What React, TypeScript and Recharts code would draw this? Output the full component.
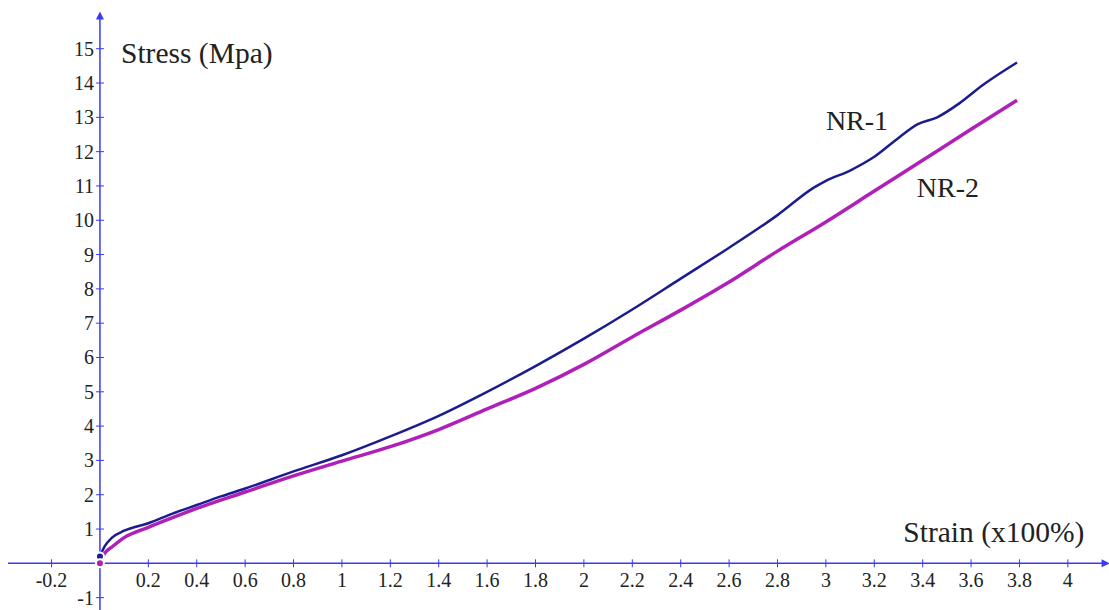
import { LineChart, Line, XAxis, YAxis, ReferenceLine, ReferenceDot } from "recharts";

// NR-1 (dark blue) strain / stress readings
const nr1Strain = [0, 0.02, 0.05, 0.1, 0.2, 0.3, 0.4, 0.5, 0.6, 0.8, 1.0, 1.2, 1.4, 1.6, 1.8, 2.0, 2.2, 2.4, 2.6, 2.8, 2.95, 3.0, 3.1, 3.2, 3.3, 3.38, 3.46, 3.55, 3.65, 3.79];
const nr1Stress = [0.2, 0.5, 0.75, 0.95, 1.17, 1.45, 1.7, 1.95, 2.18, 2.68, 3.15, 3.7, 4.3, 5.0, 5.75, 6.55, 7.4, 8.3, 9.2, 10.15, 10.95, 11.15, 11.45, 11.85, 12.4, 12.8, 13.0, 13.4, 13.95, 14.6];

// NR-2 (magenta)
const nr2Strain = [0, 0.02, 0.05, 0.1, 0.2, 0.3, 0.4, 0.6, 0.8, 1.0, 1.2, 1.4, 1.6, 1.8, 2.0, 2.2, 2.4, 2.6, 2.8, 3.0, 3.2, 3.4, 3.6, 3.79];
const nr2Stress = [0, 0.3, 0.48, 0.75, 1.05, 1.33, 1.6, 2.08, 2.55, 2.98, 3.4, 3.9, 4.5, 5.1, 5.8, 6.6, 7.38, 8.2, 9.1, 9.95, 10.85, 11.75, 12.65, 13.5];

const xTicks = [-0.2, 0.2, 0.4, 0.6, 0.8, 1, 1.2, 1.4, 1.6, 1.8, 2, 2.2, 2.4, 2.6, 2.8, 3, 3.2, 3.4, 3.6, 3.8, 4];
const yTicks = [-1, 1, 2, 3, 4, 5, 6, 7, 8, 9, 10, 11, 12, 13, 14, 15];

const nr1 = nr1Strain.map((x, i) => ({ x, y: nr1Stress[i] }));
const nr2 = nr2Strain.map((x, i) => ({ x, y: nr2Stress[i] }));

const AXIS = "#3a3af0";
const FONT = "'Liberation Serif', 'Times New Roman', serif";

const xTick = (label: string) => (p: any) => (
  <g>
    <line x1={p.cx} x2={p.cx} y1={p.cy - 4} y2={p.cy + 4} stroke={AXIS} strokeWidth={1} />
    <text x={p.cx} y={p.cy + 24} textAnchor="middle" fontFamily={FONT} fontSize={20} fill="#222">
      {label}
    </text>
  </g>
);

const yTick = (label: string) => (p: any) => (
  <g>
    <line x1={p.cx - 4} x2={p.cx + 4} y1={p.cy} y2={p.cy} stroke={AXIS} strokeWidth={1} />
    <text x={p.cx - 6} y={p.cy + 7} textAnchor="end" fontFamily={FONT} fontSize={20} fill="#222">
      {label}
    </text>
  </g>
);

const textAt = (label: string, size: number) => (p: any) => (
  <text x={p.cx} y={p.cy} fontFamily={FONT} fontSize={size} fill="#222">
    {label}
  </text>
);

export default function App() {
  return (
    <div style={{ position: "absolute", left: 0, top: 0, background: "#fff" }}>
      <LineChart width={1109} height={610} margin={{ top: 0, right: 0, bottom: 0, left: 0 }}>
        <XAxis dataKey="x" type="number" domain={[-0.413, 4.17]} allowDataOverflow hide />
        <YAxis type="number" domain={[-1.36, 16.42]} allowDataOverflow hide />

        <ReferenceLine segment={[{ x: -0.38, y: 0 }, { x: 4.16, y: 0 }]} stroke={AXIS} strokeWidth={1.5} ifOverflow="visible" />
        <ReferenceLine segment={[{ x: 0, y: -1.36 }, { x: 0, y: 16.0 }]} stroke={AXIS} strokeWidth={1.5} ifOverflow="visible" />
        <ReferenceDot
          x={4.16}
          y={0}
          ifOverflow="visible"
          shape={(p: any) => <path d={`M${p.cx + 3},${p.cy} L${p.cx - 5},${p.cy - 4} L${p.cx - 5},${p.cy + 4} Z`} fill={AXIS} />}
        />
        <ReferenceDot
          x={0}
          y={16.0}
          ifOverflow="visible"
          shape={(p: any) => <path d={`M${p.cx},${p.cy - 3} L${p.cx - 4},${p.cy + 5} L${p.cx + 4},${p.cy + 5} Z`} fill={AXIS} />}
        />

        {xTicks.map((t) => (
          <ReferenceDot key={"x" + t} x={t} y={0} ifOverflow="visible" shape={xTick(String(t))} />
        ))}
        {yTicks.map((t) => (
          <ReferenceDot key={"y" + t} x={0} y={t} ifOverflow="visible" shape={yTick(String(t))} />
        ))}

        <Line data={nr1} dataKey="y" type="monotone" stroke="#1c1c8f" strokeWidth={2.5} dot={false} isAnimationActive={false} />
        <Line data={nr2} dataKey="y" type="monotone" stroke="#b020b8" strokeWidth={3.5} dot={false} isAnimationActive={false} />

        <ReferenceDot x={0.087} y={14.59} ifOverflow="visible" shape={textAt("Stress (Mpa)", 29.5)} />
        <ReferenceDot x={3.32} y={0.62} ifOverflow="visible" shape={textAt("Strain (x100%)", 29.5)} />
        <ReferenceDot x={3.0} y={12.63} ifOverflow="visible" shape={textAt("NR-1", 28)} />
        <ReferenceDot x={3.376} y={10.68} ifOverflow="visible" shape={textAt("NR-2", 28)} />
      </LineChart>
    </div>
  );
}
